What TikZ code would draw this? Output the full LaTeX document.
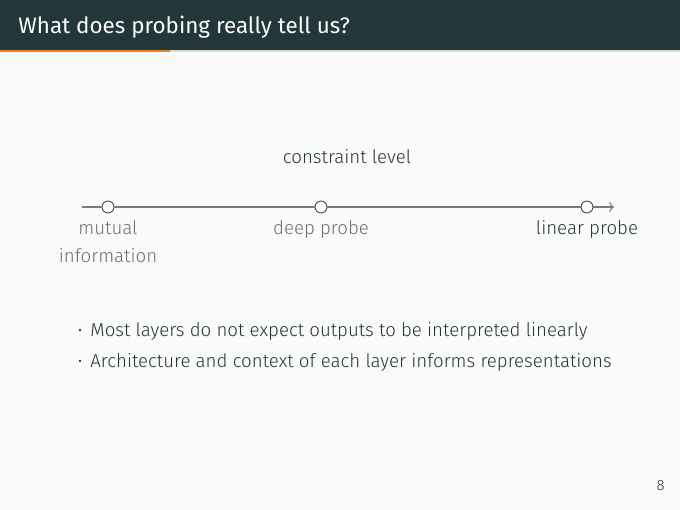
\documentclass[tikz,border=0pt]{standalone}
\usepackage{fontspec}
\setmainfont{Fira Sans}[UprightFont=* Light, BoldFont=* Regular]
\usetikzlibrary{arrows.meta}
\definecolor{mDarkTeal}{HTML}{23373B}
\definecolor{mBg}{HTML}{FAFAFA}
\definecolor{mOrange}{HTML}{EB811B}
\definecolor{mBarBg}{HTML}{D9D9D9}
\definecolor{labgray}{HTML}{6A7072}
\definecolor{linegray}{HTML}{767B7C}
\tikzset{
  body/.style={font=\fontsize{10}{12}\selectfont, text=mDarkTeal, inner sep=0pt},
  dimlab/.style={body, text=labgray},
  tick/.style={circle, draw=mDarkTeal!85, fill=white, line width=0.5pt, minimum size=6.4pt, inner sep=0pt},
}
\begin{document}
\begin{tikzpicture}[x=0.53557pt, y=-0.53557pt]
\fill[mBg] (0,0) rectangle (680,510);
\useasboundingbox (0,0) rectangle (680,510);
% header
\fill[mDarkTeal] (0,0) rectangle (680,50);
\fill[mBarBg] (0,50) rectangle (680,52);
\fill[mOrange] (0,50) rectangle (170,52);
\node[anchor=base west, inner sep=0pt, text=mBg, font=\fontsize{12}{14}\selectfont\bfseries] (title) at (18,33) {What does probing really tell us?};
% axis
\node[body, anchor=base] (cl) at (347,163) {constraint level};
\coordinate (s) at (82,207);
\coordinate (e) at (614,207);
\node[tick] (t1) at (108,207) {};
\node[tick] (t2) at (321,207) {};
\node[tick] (t3) at (587,207) {};
\draw[linegray, line width=0.6pt] (s) -- (t1) (t1) -- (t2) (t2) -- (t3);
\draw[linegray, line width=0.6pt, -{To[length=2.5pt]}] (t3) -- (e);
\node[dimlab, anchor=base] (l1a) at (108,234) {mutual};
\node[dimlab, anchor=base] (l1b) at (108,262) {information};
\node[dimlab, anchor=base] (l2) at (321,234) {deep probe};
\node[body, anchor=base] (l3) at (587,234) {linear probe};
% bullets
\fill[mDarkTeal] (80,330) circle (1.3);
\fill[mDarkTeal] (80,361) circle (1.3);
\node[body, anchor=base west] (b1) at (90,336) {Most layers do not expect outputs to be interpreted linearly};
\node[body, anchor=base west] (b2) at (90,367) {Architecture and context of each layer informs representations};
% page number
\node[anchor=base east, inner sep=0pt, text=mDarkTeal, font=\fontsize{8}{9}\selectfont] (pn) at (665,490) {8};
\end{tikzpicture}
\end{document}
